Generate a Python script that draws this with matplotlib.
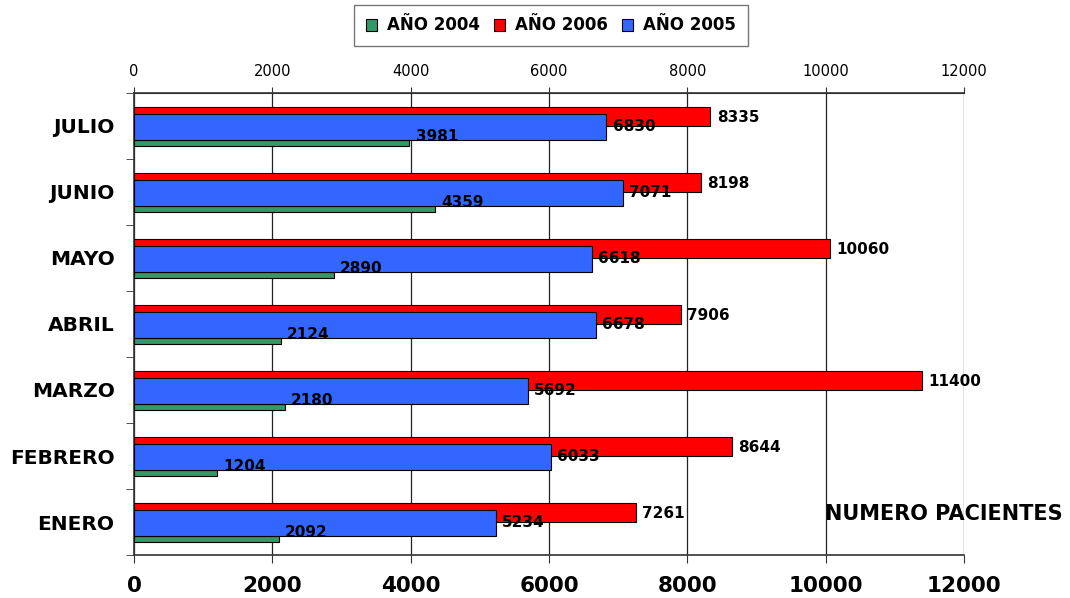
"""
Pacientes atendidos por mes (enero-julio), comparativo 2004 / 2005 / 2006.
Barras horizontales agrupadas con etiquetas de valor.
"""
import matplotlib
matplotlib.use("Agg")
import matplotlib.pyplot as plt
import numpy as np
from matplotlib.patches import Patch

MESES = ["ENERO", "FEBRERO", "MARZO", "ABRIL", "MAYO", "JUNIO", "JULIO"]
ANIO_2004 = [2092, 1204, 2180, 2124, 2890, 4359, 3981]
ANIO_2005 = [5234, 6033, 5692, 6678, 6618, 7071, 6830]
ANIO_2006 = [7261, 8644, 11400, 7906, 10060, 8198, 8335]
XTICKS = [0, 2000, 4000, 6000, 8000, 10000, 12000]

GREEN = "#339966"
RED = "#FF0000"
BLUE = "#3366FF"

plt.rcParams["font.family"] = "DejaVu Sans"

fig = plt.figure(figsize=(10.7, 5.98), dpi=100)
ax = fig.add_axes([0.1252, 0.0719, 0.7757, 0.7726])

y = np.arange(len(MESES))
# offsets inside each month band (band = 1 unit)
off_red, h_red = 0.144, 0.288
off_blue, h_blue = -0.015, 0.40
off_green, h_green = -0.258, 0.083

ax.barh(y + off_red, ANIO_2006, height=h_red, color=RED,
        edgecolor="black", linewidth=0.8, zorder=3)
ax.barh(y + off_blue, ANIO_2005, height=h_blue, color=BLUE,
        edgecolor="black", linewidth=0.8, zorder=4)
ax.barh(y + off_green, ANIO_2004, height=h_green, color=GREEN,
        edgecolor="black", linewidth=0.8, zorder=3)

lab_kw = dict(fontsize=11, fontweight="bold", va="center", ha="left",
              zorder=6, color="black")
dx = 90
for i in range(len(MESES)):
    ax.text(ANIO_2006[i] + dx, y[i] + off_red - 0.02, str(ANIO_2006[i]),
            **lab_kw)
    ax.text(ANIO_2005[i] + dx, y[i] + off_blue, str(ANIO_2005[i]), **lab_kw)
    ax.text(ANIO_2004[i] + dx, y[i] + off_green + 0.1, str(ANIO_2004[i]),
            **lab_kw)

ax.set_xlim(0, 12000)
ax.set_ylim(-0.5, len(MESES) - 0.5)

ax.set_xticks(XTICKS)
ax.set_xticklabels([str(t) for t in XTICKS], fontsize=15.5,
                   fontweight="bold")
ax.tick_params(axis="x", direction="out", length=6, pad=9, color="#333333")

ax.set_yticks(y)
ax.set_yticklabels(MESES, fontsize=14.5, fontweight="bold")
ax.set_yticks(np.arange(-0.5, len(MESES)), minor=True)
ax.tick_params(axis="y", which="major", length=0, pad=14)
ax.tick_params(axis="y", which="minor", direction="out", length=6,
               color="#333333")

ax.grid(axis="x", color="#222222", linewidth=0.9, zorder=0)
ax.set_axisbelow(True)
ax.spines["right"].set_visible(False)
for side in ("left", "bottom", "top"):
    ax.spines[side].set_color("#333333")
    ax.spines[side].set_linewidth(1.2)

top = ax.secondary_xaxis("top")
top.set_xticks(XTICKS)
top.set_xticklabels([str(t) for t in XTICKS], fontsize=10.5)
top.tick_params(direction="out", length=4, pad=6, color="#333333")
top.spines["top"].set_color("#333333")

fig.text(825 / 1070, 1 - 514 / 598, "NUMERO PACIENTES", fontsize=15,
         fontweight="bold", ha="left", va="center")

handles = [Patch(facecolor=GREEN, edgecolor="black", linewidth=0.8),
           Patch(facecolor=RED, edgecolor="black", linewidth=0.8),
           Patch(facecolor=BLUE, edgecolor="black", linewidth=0.8)]
leg = fig.legend(handles, ["AÑO 2004", "AÑO 2006", "AÑO 2005"], ncol=3,
                 loc="center", bbox_to_anchor=(551 / 1070, 1 - 25.5 / 598),
                 prop=dict(size=12, weight="bold"), frameon=True,
                 fancybox=False, handlelength=0.7, handleheight=0.7,
                 handletextpad=0.6, columnspacing=0.8, borderpad=0.7)
leg.get_frame().set_edgecolor("#555555")
leg.get_frame().set_linewidth(1.0)

fig.savefig("out.png", dpi=100)
